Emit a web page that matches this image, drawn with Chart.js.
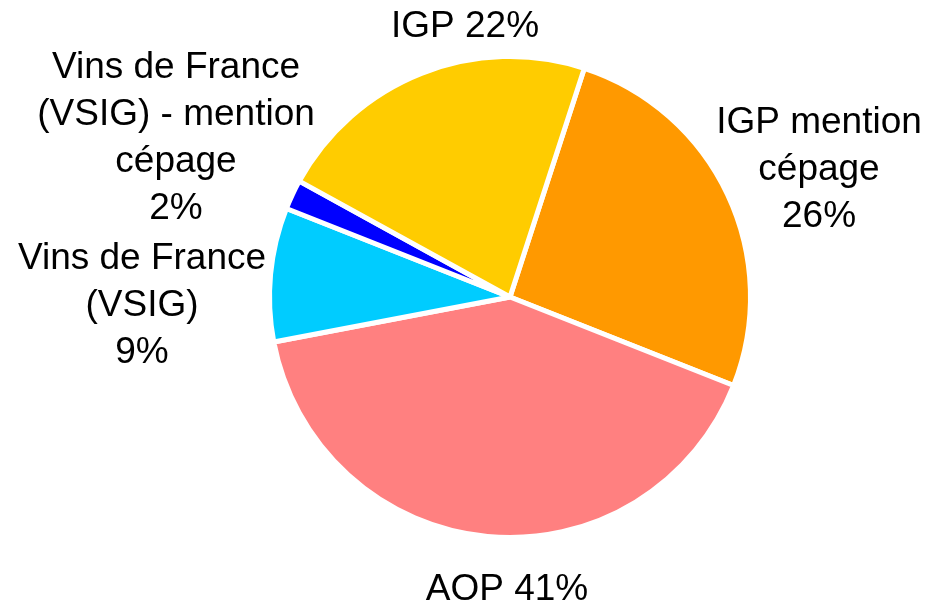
<!DOCTYPE html>
<html>
<head>
<meta charset="utf-8">
<script src="https://cdn.jsdelivr.net/npm/chart.js@4/dist/chart.umd.min.js"></script>
<style>
    html, body { margin: 0; padding: 0; background: #fff; }
    #wrap { width: 926px; height: 605px; position: relative; }
</style>
</head>
<body>
<div id="wrap"><canvas id="pieChart"></canvas></div>
<script>
// ============ Data ============
const categories = ['IGP mention cépage', 'AOP', 'Vins de France (VSIG)', 'Vins de France (VSIG) - mention cépage', 'IGP'];
const shares = [26, 41, 9, 2, 22];
const colors = ['#FF9900', '#FF8080', '#00CCFF', '#0000FF', '#FFCC00'];

// how each label is wrapped (percentage goes on the last line or its own line)
const labelLines = [
    ['IGP mention', 'cépage', '{v}%'],
    ['AOP {v}%'],
    ['Vins de France', '(VSIG)', '{v}%'],
    ['Vins de France', '(VSIG) - mention', 'cépage', '{v}%'],
    ['IGP {v}%']
];
// label anchor (centre x, first baseline) relative to pie centre
const labelOffsets = [[309, -164], [-3, 303], [-368, -28], [-334, -219], [-45, -260]];

// ============ Label plugin ============
const outsideLabels = {
    id: 'outsideLabels',
    afterDatasetsDraw(chart) {
        const ctx = chart.ctx;
        const arcs = chart.getDatasetMeta(0).data;
        if (!arcs.length) return;
        const cx = arcs[0].x, cy = arcs[0].y;
        ctx.save();
        ctx.font = '37px "Liberation Sans", Arial, sans-serif';
        ctx.fillStyle = '#000';
        ctx.textAlign = 'center';
        ctx.textBaseline = 'alphabetic';
        labelLines.forEach((lines, i) => {
            const [dx, dy] = labelOffsets[i];
            lines.forEach((ln, j) => {
                ctx.fillText(ln.replace('{v}', shares[i]), cx + dx, cy + dy + j * 47);
            });
        });
        ctx.restore();
    }
};

// ============ Chart ============
new Chart(document.getElementById('pieChart'), {
    type: 'pie',
    data: {
        labels: categories,
        datasets: [{
            data: shares,
            backgroundColor: colors,
            borderColor: '#ffffff',
            borderWidth: 5
        }]
    },
    options: {
        responsive: true,
        maintainAspectRatio: false,
        animation: false,
        rotation: 18,
        layout: { padding: { left: 267, right: 173, top: 54, bottom: 65 } },
        plugins: {
            legend: { display: false },
            tooltip: { enabled: false }
        }
    },
    plugins: [outsideLabels]
});
</script>
</body>
</html>
